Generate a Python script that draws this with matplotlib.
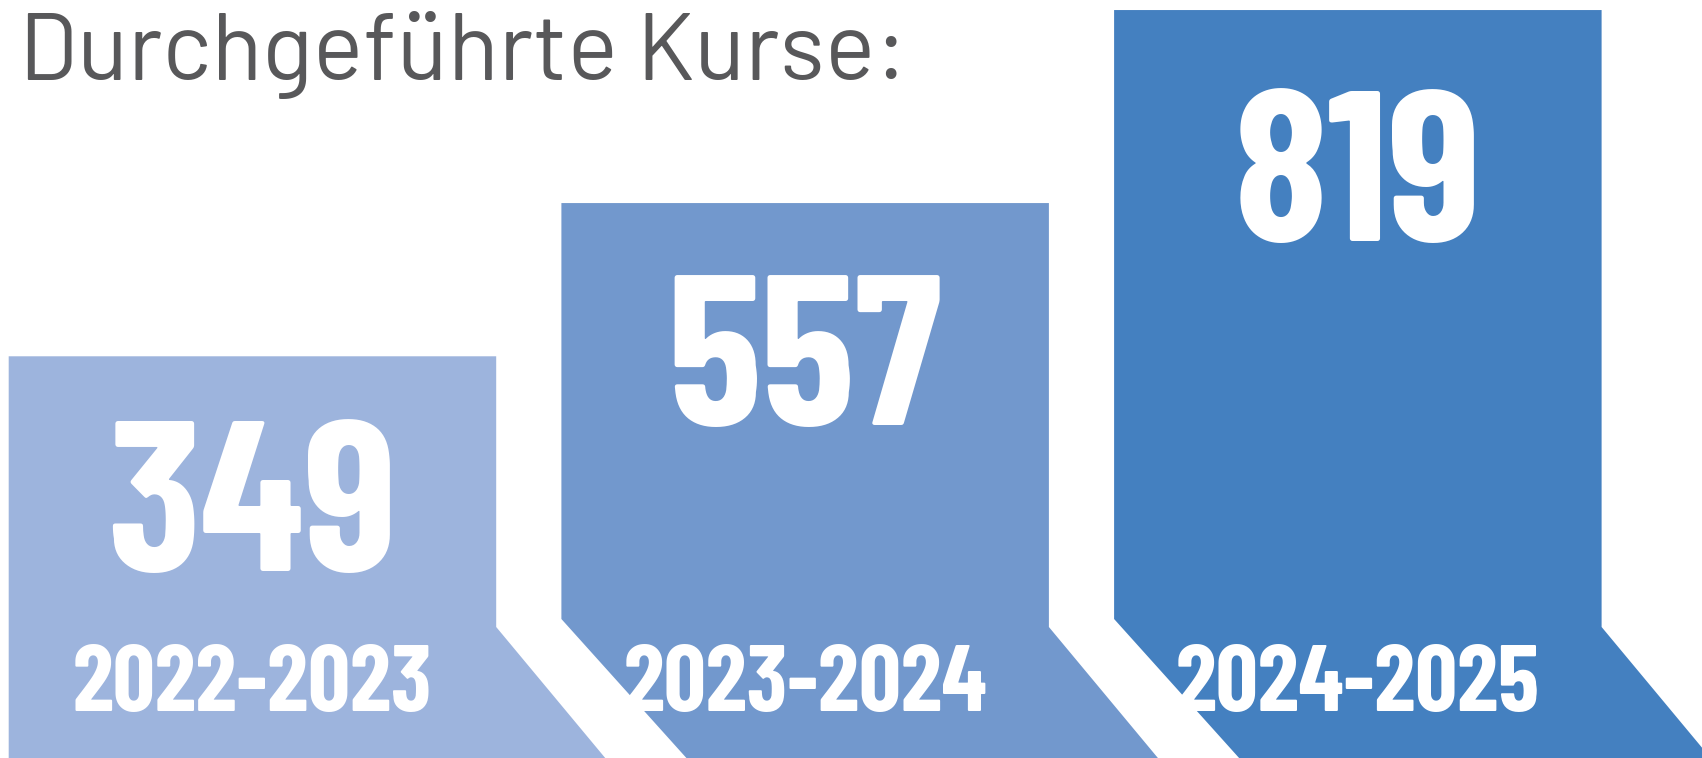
import matplotlib
matplotlib.use('Agg')
import matplotlib.pyplot as plt
import matplotlib.font_manager as fm
from matplotlib.patches import Polygon

# ---- data ----
categories = ['2022-2023', '2023-2024', '2024-2025']
values = [349, 557, 819]
title = 'Durchgeführte Kurse:'

# ---- style ----
colors = ['#9DB4DD', '#7298CD', '#4480C0']
title_color = '#58585A'

available = {f.name for f in fm.fontManager.ttflist}


def pick(prefs):
    for p in prefs:
        if p in available:
            return [p, 'DejaVu Sans']
    return ['DejaVu Sans']


num_font = pick(['D-DIN Condensed', 'DIN Condensed', 'Barlow Condensed', 'Roboto Condensed',
                 'Saira Condensed', 'Oswald', 'Archivo Narrow', 'Liberation Sans Narrow'])
title_font = pick(['D-DIN', 'Barlow', 'Barlow Semi Condensed', 'Roboto'])

W, H = 1702, 758
K = 0.7367   # pixels per unit (bar tops)
B = 144.6    # pixel height of value 0 above bottom edge
K2, C2 = 0.7012, -57.5   # layout rule for the number baselines (pixels)


def py(p):
    """pixel row from top -> data y"""
    return (H - p - B) / K


fig = plt.figure(figsize=(W / 100, H / 100), dpi=100)
ax = fig.add_axes([0, 0, 1, 1])
ax.set_xlim(0, W)
ax.set_ylim(py(H), py(0))
ax.axis('off')

x0, step, width = 8.7, 552.7, 487.5
bottom = py(H)
break_l, break_r = py(619), py(627)
dx_l, dx_r = 125, 109

for i, (cat, val) in enumerate(zip(categories, values)):
    left = x0 + i * step
    right = left + width
    if i == 0:
        verts = [(left, bottom), (left, val), (right, val), (right, break_r),
                 (right + dx_r, bottom)]
    else:
        verts = [(left + dx_l, bottom), (left, break_l), (left, val), (right, val),
                 (right, break_r), (right + dx_r, bottom)]
    ax.add_patch(Polygon(verts, closed=True, facecolor=colors[i], edgecolor='none'))
    cx = (left + right) / 2
    y_num = (K2 * val + C2 - B) / K
    ax.text(cx, y_num, f'{val}', ha='center', va='baseline',
            fontsize=154, fontweight='bold', color='white', family=num_font)
    ax.text(cx, py(711), cat, ha='center', va='baseline',
            fontsize=67, fontweight='bold', color='white', family=num_font)

ax.text(19, py(80), title, ha='left', va='baseline', fontsize=68,
        fontweight='normal', color=title_color, family=title_font)

fig.savefig('out.png', dpi=100)
